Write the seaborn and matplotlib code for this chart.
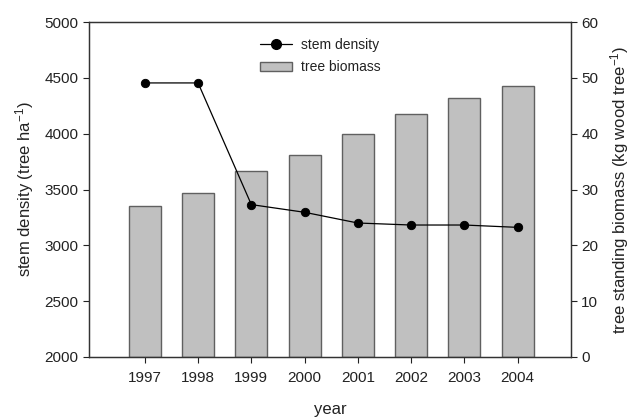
import matplotlib
matplotlib.use("Agg")
import matplotlib.pyplot as plt
import seaborn as sns
import pandas as pd
from matplotlib.lines import Line2D
from matplotlib.patches import Patch

years = ["1997", "1998", "1999", "2000", "2001", "2002", "2003", "2004"]
stem_density = [4455, 4455, 3365, 3296, 3200, 3182, 3182, 3161]
tree_biomass = [27.1, 29.4, 33.3, 36.2, 39.9, 43.6, 46.4, 48.6]

df = pd.DataFrame({"year": years, "stem": stem_density, "biomass": tree_biomass})

sns.set_theme(style="ticks")
plt.rcParams["font.family"] = ["Liberation Sans", "DejaVu Sans"]
plt.rcParams["mathtext.fontset"] = "custom"
plt.rcParams["mathtext.rm"] = "Liberation Sans"
plt.rcParams["mathtext.it"] = "Liberation Sans:italic"
plt.rcParams["text.color"] = "#222222"
plt.rcParams["axes.labelcolor"] = "#222222"
plt.rcParams["xtick.color"] = "#222222"
plt.rcParams["ytick.color"] = "#222222"

fig = plt.figure(figsize=(6.35, 4.17), dpi=100)
ax = fig.add_axes([0.140, 0.144, 0.759, 0.803])
ax2 = ax.twinx()

# biomass bars on the right axis
sns.barplot(data=df, x="year", y="biomass", ax=ax2, color="#c0c0c0",
            edgecolor="#606060", linewidth=1.0, width=0.6, saturation=1)

# stem density line on the left axis, drawn above the bars
sns.pointplot(data=df, x="year", y="stem", ax=ax, color="black",
              markers="o", markersize=6, linewidth=0.9)
ax.set_zorder(ax2.get_zorder() + 1)
ax.patch.set_visible(False)

ax.set_ylim(2000, 5000)
ax.set_yticks(range(2000, 5001, 500))
ax2.set_ylim(0, 60)
ax2.set_yticks(range(0, 61, 10))
ax.set_xlim(-1.05, 8.0)

ax.set_xlabel("year", fontsize=12, labelpad=12)
ax.set_ylabel("stem density (tree ha$^{-1}$)", fontsize=12, labelpad=6)
ax2.set_ylabel("tree standing biomass (kg wood tree$^{-1}$)", fontsize=12, labelpad=7)

for a in (ax, ax2):
    a.tick_params(labelsize=11, length=4, width=0.8)
    for s in a.spines.values():
        s.set_color("#333333")
        s.set_linewidth(0.9)
ax.tick_params(axis="x", pad=6)

handles = [
    Line2D([0], [0], color="black", marker="o", markersize=7, linewidth=0.9),
    Patch(facecolor="#c0c0c0", edgecolor="#606060", linewidth=1.0),
]
ax.legend(handles, ["stem density", "tree biomass"], loc="upper left",
          bbox_to_anchor=(0.33, 0.99), frameon=False, fontsize=10,
          handlelength=2.3, handletextpad=0.6, labelspacing=0.6)

fig.savefig("out.png", dpi=100)
